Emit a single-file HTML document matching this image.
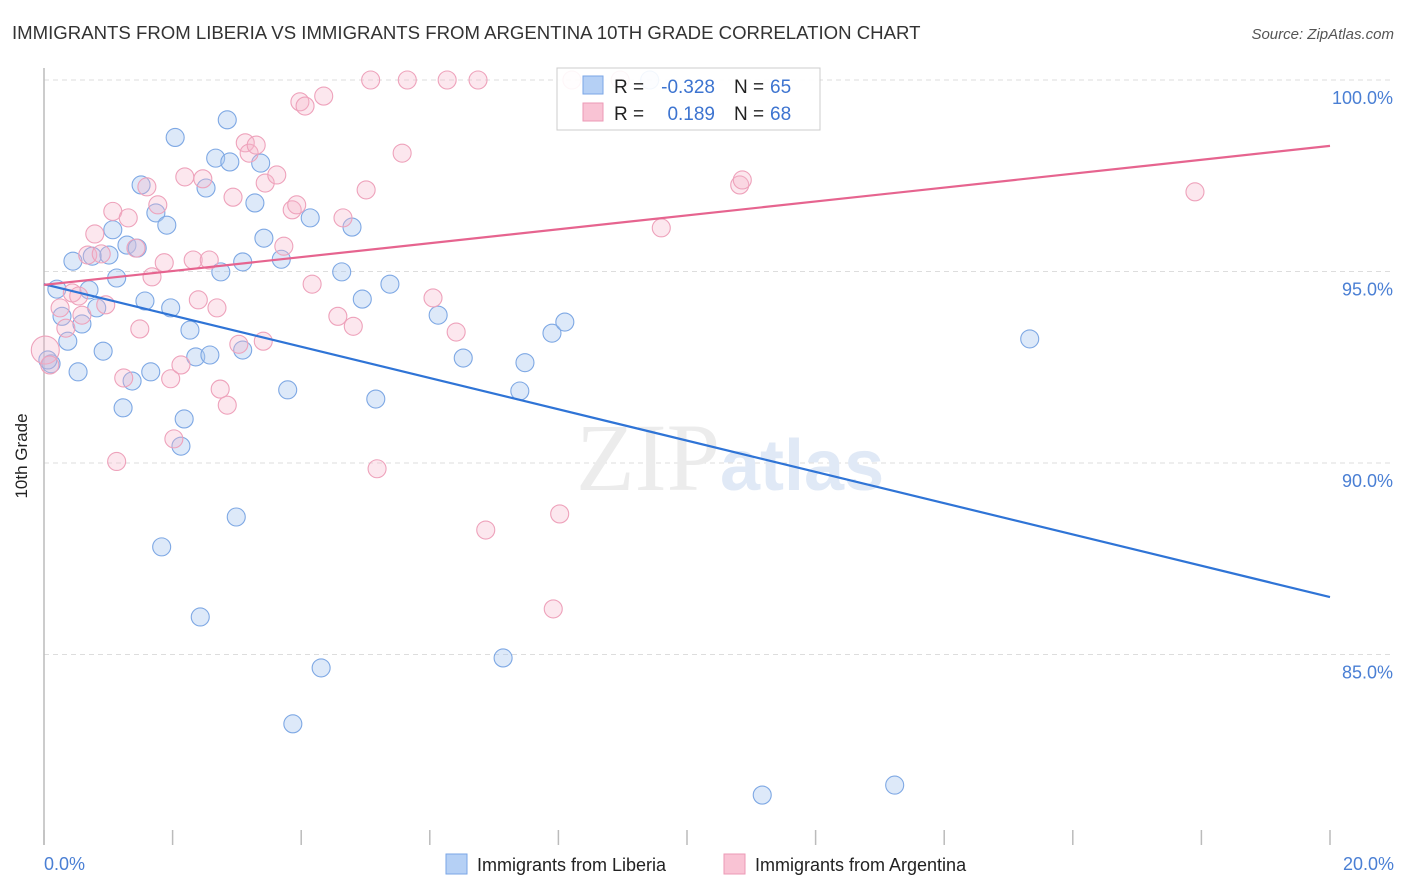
<!DOCTYPE html>
<html><head><meta charset="utf-8"><style>
body{margin:0;background:#fff;font-family:"Liberation Sans",sans-serif;}
svg{display:block}
</style></head><body>
<svg id="chart" width="1406" height="892" xmlns="http://www.w3.org/2000/svg">
<text x="12" y="39" font-size="18.6" fill="#333">IMMIGRANTS FROM LIBERIA VS IMMIGRANTS FROM ARGENTINA 10TH GRADE CORRELATION CHART</text>
<text x="1394" y="39" font-size="15" fill="#555" font-style="italic" text-anchor="end">Source: ZipAtlas.com</text>
<g id="grid"></g>
<line x1="44" y1="68" x2="44" y2="845" stroke="#bbb" stroke-width="1.5"/>
<g id="xticks"></g>
<text x="720" y="490" font-size="96" fill="#ececec" text-anchor="end" font-family="Liberation Serif,serif">ZIP</text>
<text x="720" y="490" font-size="72" fill="#e0e9f6" font-weight="bold">atlas</text>
<g id="pts"></g>
<g id="lines"></g>
<g id="ylabels"></g>
<text x="27" y="456" font-size="17" fill="#222" transform="rotate(-90 27 456)" text-anchor="middle">10th Grade</text>
<text x="44" y="870" font-size="18" fill="#4a7fd4">0.0%</text>
<text x="1394" y="870" font-size="18" fill="#4a7fd4" text-anchor="end">20.0%</text>
<g>
<rect x="557" y="68" width="263" height="62" fill="#fff" fill-opacity="0.9" stroke="#ccc"/>
<rect x="583" y="76" width="20" height="18" fill="#b5d0f5" stroke="#7aa6e6"/>
<rect x="583" y="103" width="20" height="18" fill="#f9c3d4" stroke="#ec9ab6"/>
<text x="614" y="93" font-size="19" fill="#222">R = </text><text x="715" y="93" font-size="19" fill="#3d74d0" text-anchor="end">-0.328</text>
<text x="734" y="93" font-size="19" fill="#222">N = </text><text x="770" y="93" font-size="19" fill="#3d74d0">65</text>
<text x="614" y="120" font-size="19" fill="#222">R = </text><text x="715" y="120" font-size="19" fill="#3d74d0" text-anchor="end">0.189</text>
<text x="734" y="120" font-size="19" fill="#222">N = </text><text x="770" y="120" font-size="19" fill="#3d74d0">68</text>
</g>
<g>
<rect x="446" y="854" width="21" height="20" fill="#b5d0f5" stroke="#7aa6e6"/>
<text x="477" y="871" font-size="18" fill="#222">Immigrants from Liberia</text>
<rect x="724" y="854" width="21" height="20" fill="#f9c3d4" stroke="#ec9ab6"/>
<text x="755" y="871" font-size="18" fill="#222">Immigrants from Argentina</text>
</g>
</svg>
<script>
const yTicks=[100,95,90,85];
const xTickVals=[0,2,4,6,8,10,12,14,16,18,20];
const blueX=[0.11,0.06,0.2,0.45,0.28,0.37,0.53,0.59,0.7,0.75,0.82,0.92,1.01,1.07,1.13,1.23,1.29,1.37,1.45,1.51,1.57,1.66,1.74,1.83,1.91,1.97,2.04,2.18,2.13,2.27,2.36,2.43,2.52,2.58,2.67,2.75,2.85,2.89,2.99,3.09,3.09,3.28,3.37,3.42,3.69,3.79,3.87,4.14,4.31,4.63,4.79,4.95,5.16,5.38,6.13,6.52,7.14,7.4,7.48,7.9,8.1,9.42,11.17,13.23,15.33];
const blueY=[92.59,92.69,94.54,95.27,93.83,93.18,92.38,93.63,94.52,95.4,94.05,92.92,95.43,96.09,94.83,91.44,95.69,92.14,95.61,97.26,94.23,92.38,96.53,87.81,96.21,94.05,98.5,91.15,90.44,93.47,92.77,85.98,97.18,92.82,97.96,94.99,98.96,97.86,88.59,95.25,92.95,96.79,97.83,95.87,95.32,91.91,83.19,96.4,84.65,94.99,96.16,94.28,91.67,94.67,93.86,92.74,84.91,91.88,92.62,93.39,93.68,100,81.33,81.59,93.24];
const pinkX=[0.02,0.09,0.25,0.34,0.44,0.54,0.59,0.68,0.79,0.89,0.96,1.07,1.13,1.24,1.31,1.43,1.49,1.6,1.68,1.77,1.87,1.97,2.02,2.13,2.19,2.32,2.4,2.47,2.57,2.69,2.74,2.85,2.94,3.03,3.13,3.19,3.3,3.41,3.44,3.62,3.73,3.86,3.93,3.98,4.06,4.17,4.35,4.57,4.65,4.81,5.01,5.08,5.18,5.57,5.65,6.05,6.27,6.41,6.75,6.87,7.92,8.02,8.21,8.96,9.6,10.82,10.86,17.9];
const pinkY=[92.95,92.56,94.05,93.52,94.44,94.36,93.86,95.43,95.98,95.46,94.13,96.57,90.04,92.22,96.4,95.61,93.5,97.21,94.86,96.74,95.23,92.2,90.63,92.56,97.47,95.3,94.26,97.42,95.3,94.05,91.93,91.51,96.94,93.1,98.36,98.09,98.3,93.18,97.31,97.52,95.66,96.61,96.74,99.43,99.32,94.67,99.58,93.83,96.4,93.57,97.13,100,89.85,98.09,100,94.31,100,93.42,100,88.25,86.19,88.67,100,100,96.14,97.26,97.39,97.08];
const trendBlue=[94.67,86.5];
const trendPink=[94.65,98.28];
const X=v=>44+v*64.3, Y=v=>80+(100-v)*38.3;
const NS="http://www.w3.org/2000/svg";
function mk(tag,attrs,parent){const e=document.createElementNS(NS,tag);for(const k in attrs)e.setAttribute(k,attrs[k]);parent.appendChild(e);return e;}
const grid=document.getElementById('grid'),yl=document.getElementById('ylabels'),xt=document.getElementById('xticks');
yTicks.forEach(t=>{
  const l=mk('line',{x1:44,x2:1394,y1:Y(t),y2:Y(t),stroke:'#ddd','stroke-dasharray':'5,4'},grid);
  
  
  const tx=mk('text',{x:1393,y:Y(t)+24,'font-size':18,fill:'#4a7fd4','text-anchor':'end'},yl);
  tx.textContent=t.toFixed(1)+'%';
  
  
});
xTickVals.forEach(t=>{
  const l=mk('line',{x1:X(t),x2:X(t),y1:830,y2:845,stroke:'#bbb','stroke-width':1.5},xt);
  
  
});
const pts=document.getElementById('pts');
blueX.forEach((v,i)=>{
  const c=mk('circle',{cx:X(v),cy:Y(blueY[i]),r:9,fill:'rgba(170,200,240,0.4)',stroke:'#7ea8e4','stroke-width':1.1},pts);
  
  
});
pinkX.forEach((v,i)=>{
  const c=mk('circle',{cx:X(v),cy:Y(pinkY[i]),r:i===0?14:9,fill:'rgba(247,180,202,0.32)',stroke:'#eea2bb','stroke-width':1.1},pts);
  
  
});
const lines=document.getElementById('lines');
const lb=mk('line',{x1:X(0),y1:Y(trendBlue[0]),x2:X(20),y2:Y(trendBlue[1]),stroke:'#2f74d6','stroke-width':2.2},lines);


const lp=mk('line',{x1:X(0),y1:Y(trendPink[0]),x2:X(20),y2:Y(trendPink[1]),stroke:'#e6648f','stroke-width':2.2},lines);


</script>
</body></html>
